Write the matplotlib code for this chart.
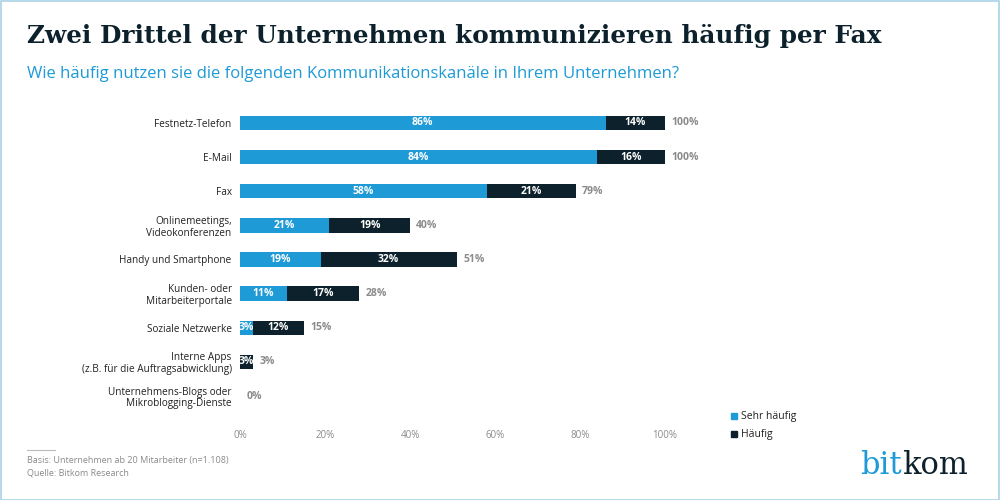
import matplotlib
matplotlib.use("Agg")
import matplotlib.pyplot as plt
from matplotlib.patches import Rectangle

categories = ["Festnetz-Telefon", "E-Mail", "Fax", "Onlinemeetings,\nVideokonferenzen",
              "Handy und Smartphone", "Kunden- oder\nMitarbeiterportale", "Soziale Netzwerke",
              "Interne Apps\n(z.B. für die Auftragsabwicklung)", "Unternehmens-Blogs oder\nMikroblogging-Dienste"]
sehr_haeufig = [86, 84, 58, 21, 19, 11, 3, 0, 0]
haeufig = [14, 16, 21, 19, 32, 17, 12, 3, 0]
totals = [100, 100, 79, 40, 51, 28, 15, 3, 0]
xticks = [0, 20, 40, 60, 80, 100]

BLUE = "#1e9ad6"
DARK = "#0c212b"
GREY = "#8a8a8a"

fig = plt.figure(figsize=(10, 5), dpi=100)
plt.rcParams['font.family'] = ['Open Sans', 'DejaVu Sans']
ax = fig.add_axes([0.24, 0.167, 0.425, 0.628])
y = list(range(len(categories)))
ax.barh(y, sehr_haeufig, height=0.42, color=BLUE, label="Sehr häufig")
ax.barh(y, haeufig, left=sehr_haeufig, height=0.42, color=DARK, label="Häufig")
for i in y:
    if sehr_haeufig[i] > 0:
        ax.text(sehr_haeufig[i] / 2, i, f"{sehr_haeufig[i]}%", ha="center", va="center",
                color="white", fontsize=7.5, fontweight="bold")
    if haeufig[i] > 0:
        ax.text(sehr_haeufig[i] + haeufig[i] / 2, i, f"{haeufig[i]}%", ha="center", va="center",
                color="white", fontsize=7.5, fontweight="bold")
    ax.text(totals[i] + 1.5, i, f"{totals[i]}%", ha="left", va="center",
            color=GREY, fontsize=7.5, fontweight="bold")
ax.set_ylim(len(categories) - 0.4, -0.6)
ax.set_xlim(0, 100)
ax.set_yticks(y)
ax.set_yticklabels(categories, fontsize=7.2, color="#222222", linespacing=1.1)
ax.set_xticks(xticks)
ax.set_xticklabels([f"{t}%" for t in xticks], fontsize=7, color=GREY)
ax.tick_params(axis="y", length=0, pad=6)
ax.tick_params(axis="x", length=0, pad=10)
for s in ax.spines.values():
    s.set_visible(False)

fig.text(0.027, 0.915, "Zwei Drittel der Unternehmen kommunizieren häufig per Fax",
         fontsize=17.8, fontweight="bold", color="#0c212b", family=["DejaVu Serif"])
fig.text(0.027, 0.845, "Wie häufig nutzen sie die folgenden Kommunikationskanäle in Ihrem Unternehmen?",
         fontsize=12, color=BLUE)

fig.patches.append(Rectangle((0.731, 0.162), 0.006, 0.012, transform=fig.transFigure, color=BLUE))
fig.text(0.741, 0.168, "Sehr häufig", fontsize=7.5, va="center", color="#222222")
fig.patches.append(Rectangle((0.731, 0.126), 0.006, 0.012, transform=fig.transFigure, color=DARK))
fig.text(0.741, 0.132, "Häufig", fontsize=7.5, va="center", color="#222222")

fig.add_artist(plt.Line2D([0.027, 0.055], [0.1, 0.1], color="#bbbbbb", lw=0.8, transform=fig.transFigure))
fig.text(0.027, 0.073, "Basis: Unternehmen ab 20 Mitarbeiter (n=1.108)", fontsize=6.5, color=GREY)
fig.text(0.027, 0.049, "Quelle: Bitkom Research", fontsize=6.5, color=GREY)

fig.text(0.902, 0.07, "bit", fontsize=22, color=BLUE, family=["DejaVu Serif"], va="center", ha="right")
fig.text(0.902, 0.07, "kom", fontsize=22, color=DARK, family=["DejaVu Serif"], va="center", ha="left")

fig.patches.append(Rectangle((0.001, 0.001), 0.998, 0.998, transform=fig.transFigure,
                             fill=False, edgecolor="#a9d3e6", lw=1.2))
fig.savefig("out.png", dpi=100)
